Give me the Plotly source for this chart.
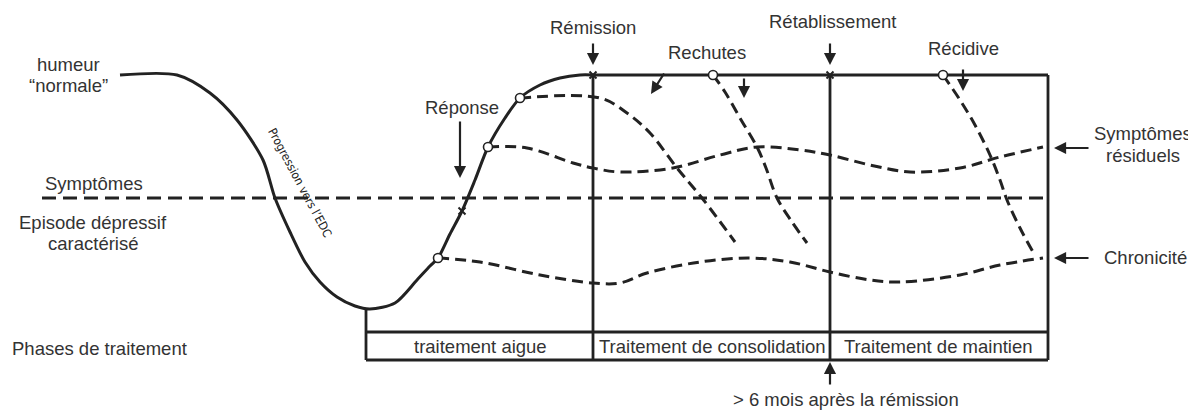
import plotly.graph_objects as go

# ---------------- data (diagram units: x = time, y = mood depth, 0 at top) ----------------
mood_x = [120, 177, 210, 237, 263, 275, 290, 305, 320, 337, 355, 370, 395, 417, 430, 438, 450, 462, 475, 488, 505, 520, 540, 560, 580, 593]
mood_y = [75, 75, 93, 120, 160, 198, 232, 262, 282, 297, 306, 309, 303, 280, 266, 258, 234, 211, 180, 147, 118, 98, 85, 78, 75, 75]

relapse1_x = [520, 600, 627, 650, 677, 702, 735]
relapse1_y = [98, 98, 113, 133, 168, 198, 242]

residual_x = [488, 527, 573, 593, 620, 673, 720, 757, 800, 830, 870, 910, 960, 1000, 1043]
residual_y = [147, 148, 163, 168, 172, 168, 155, 147, 150, 155, 165, 172, 168, 157, 147]

chronic_x = [438, 480, 540, 593, 620, 647, 700, 750, 790, 830, 870, 900, 960, 1000, 1043]
chronic_y = [258, 262, 275, 283, 283, 273, 262, 258, 262, 272, 280, 282, 275, 265, 258]

relapse2_x = [713, 725, 740, 757, 766, 777, 792, 807]
relapse2_y = [75, 92, 118, 147, 168, 198, 222, 243]

recur_x = [943, 960, 975, 990, 1000, 1007, 1020, 1033]
recur_y = [75, 100, 125, 155, 180, 200, 228, 252]

symptom_line_x = [42, 1043]
symptom_line_y = [198, 198]

circle_x = [520, 488, 438, 713, 943]
circle_y = [98, 147, 258, 75, 75]

cross_x = [593, 830, 462]
cross_y = [75, 75, 211]

# box / phase frame segments (x0, y0, x1, y1)
frame_segments = [
    (593, 75, 1048, 75),
    (1048, 75, 1048, 360),
    (593, 75, 593, 360),
    (830, 75, 830, 360),
    (366, 309, 366, 360),
    (366, 332, 1048, 332),
    (366, 360, 1048, 360),
]

# arrows: (tail_x, tail_y, head_x, head_y)
arrows = [
    (460, 120, 460, 178),    # Réponse
    (593, 42, 593, 65),      # Rémission
    (830, 42, 830, 65),      # Rétablissement
    (665, 72, 651, 94),      # Rechutes 1
    (744, 77, 744, 98),      # Rechutes 2
    (963, 68, 963, 91),      # Récidive
    (1090, 148, 1054, 148),  # Symptômes résiduels
    (1090, 258, 1054, 258),  # Chronicité
    (830, 386, 830, 362),    # > 6 mois
]

# labels: (text, x, y, xanchor)
labels = [
    ("humeur", 68, 64, "center"),
    ("\u201cnormale\u201d", 68, 85, "center"),
    ("Symptômes", 43, 183, "left"),
    ("Episode dépressif", 93, 222, "center"),
    ("caractérisé", 93, 243, "center"),
    ("Phases de traitement", 10, 348, "left"),
    ("Réponse", 462, 107, "center"),
    ("Rémission", 593, 27, "center"),
    ("Rechutes", 707, 52, "center"),
    ("Rétablissement", 833, 21, "center"),
    ("Récidive", 963, 48, "center"),
    ("Symptômes", 1143, 133, "center"),
    ("résiduels", 1143, 155, "center"),
    ("Chronicité", 1145, 257, "center"),
    ("traitement aigue", 480, 346, "center"),
    ("Traitement de consolidation", 712, 346, "center"),
    ("Traitement de maintien", 938, 346, "center"),
    ("> 6 mois après la rémission", 846, 399, "center"),
]

rot_label = ("Progression vers l\u2019EDC", 300, 183, 62)

# ---------------- figure ----------------
INK = "#222222"
TXT = "#333333"
FONT = "Liberation Sans, Arial, sans-serif"

# page body has an 8px default margin: size the figure so page pixels == diagram units
OFF = 8
W, H = 1196, 410

fig = go.Figure()

for (x0, y0, x1, y1) in frame_segments:
    fig.add_trace(go.Scatter(x=[x0, x1], y=[y0, y1], mode="lines",
                             line=dict(color=INK, width=2.8), hoverinfo="skip"))

fig.add_trace(go.Scatter(x=symptom_line_x, y=symptom_line_y, mode="lines",
                         line=dict(color=INK, width=2.8, dash="14px,7px"), hoverinfo="skip"))

for xs, ys in [(relapse1_x, relapse1_y), (residual_x, residual_y), (chronic_x, chronic_y),
               (relapse2_x, relapse2_y), (recur_x, recur_y)]:
    fig.add_trace(go.Scatter(x=xs, y=ys, mode="lines",
                             line=dict(color=INK, width=3, dash="11px,6px", shape="spline", smoothing=1.0),
                             hoverinfo="skip"))

fig.add_trace(go.Scatter(x=mood_x, y=mood_y, mode="lines",
                         line=dict(color=INK, width=3, shape="spline", smoothing=0.8),
                         hoverinfo="skip"))

fig.add_trace(go.Scatter(x=cross_x, y=cross_y, mode="markers",
                         marker=dict(symbol="x-thin", size=7, line=dict(color=INK, width=2)),
                         hoverinfo="skip"))

fig.add_trace(go.Scatter(x=circle_x, y=circle_y, mode="markers",
                         marker=dict(symbol="circle", size=9, color="white",
                                     line=dict(color=INK, width=1.6)),
                         hoverinfo="skip"))

annotations = []
for (tx, ty, hx, hy) in arrows:
    annotations.append(dict(x=hx, y=hy, ax=tx, ay=ty, xref="x", yref="y", axref="x", ayref="y",
                            showarrow=True, arrowhead=2, arrowsize=1.1, arrowwidth=2.2,
                            arrowcolor=INK, text=""))

for (t, x, y, xa) in labels:
    annotations.append(dict(x=x, y=y, xref="x", yref="y", text=t, showarrow=False,
                            xanchor=xa, yanchor="middle",
                            font=dict(family=FONT, size=18.5, color=TXT)))

t, x, y, ang = rot_label
annotations.append(dict(x=x, y=y, xref="x", yref="y", text=t, showarrow=False, textangle=ang,
                        xanchor="center", yanchor="middle",
                        font=dict(family="DejaVu Sans Condensed, Liberation Sans Narrow, Arial Narrow, sans-serif",
                                  size=12, color="#222222")))

fig.update_layout(
    width=W - OFF, height=H - OFF,
    margin=dict(l=0, r=0, t=0, b=0),
    paper_bgcolor="white", plot_bgcolor="white",
    showlegend=False,
    annotations=annotations,
    xaxis=dict(range=[OFF, W], visible=False, fixedrange=True),
    yaxis=dict(range=[H, OFF], visible=False, fixedrange=True),
)

fig.write_html("out.html")
